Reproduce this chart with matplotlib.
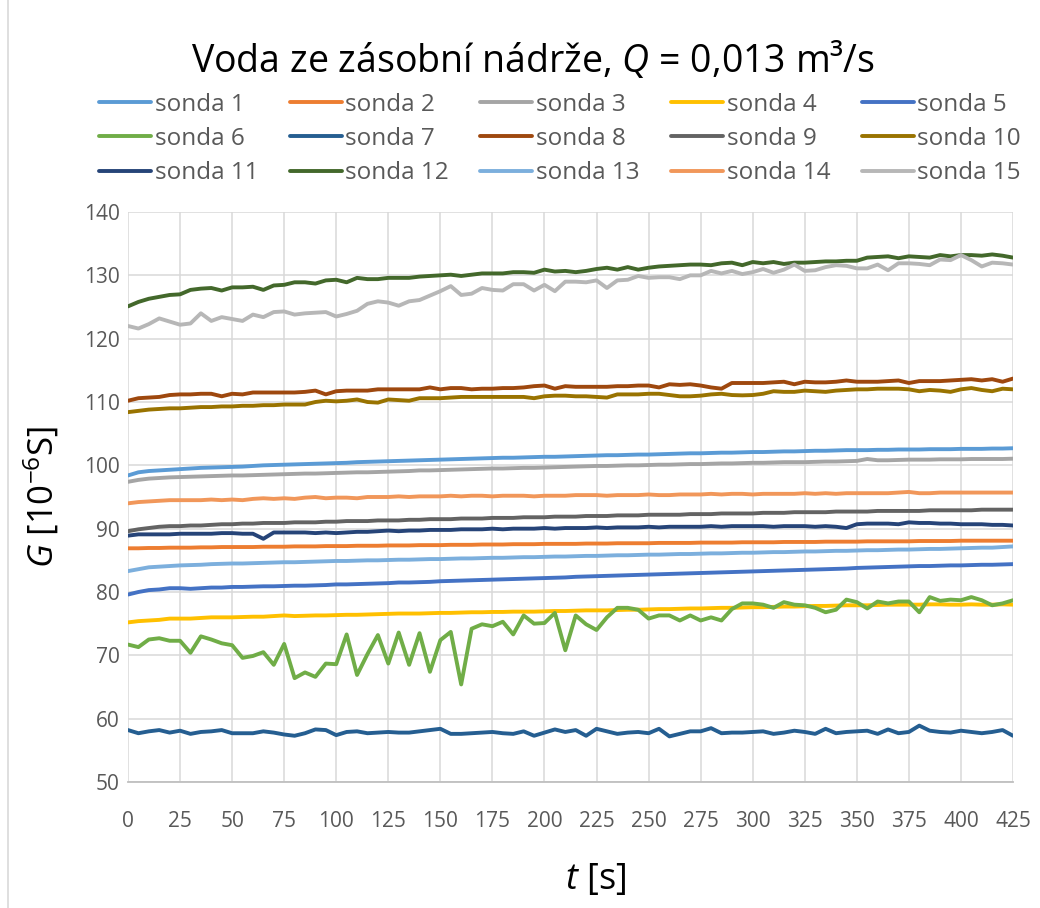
import numpy as np
import matplotlib
matplotlib.use("Agg")
import matplotlib.pyplot as plt
from matplotlib.lines import Line2D

plt.rcParams['font.family'] = ['Open Sans', 'DejaVu Sans']
plt.rcParams['mathtext.fontset'] = 'custom'
plt.rcParams['mathtext.rm'] = 'Open Sans'
plt.rcParams['mathtext.it'] = 'Open Sans:italic'

# time axis [s], one reading every 5 s
t = np.arange(0, 430, 5)

sonda1 = [98.4, 98.9, 99.1, 99.2, 99.3, 99.4, 99.5, 99.6, 99.65, 99.7,
          99.75, 99.8, 99.9, 100.0, 100.05, 100.1, 100.15, 100.2, 100.25, 100.3,
          100.35, 100.4, 100.5, 100.55, 100.6, 100.65, 100.7, 100.75, 100.8, 100.85,
          100.9, 100.95, 101.0, 101.05, 101.1, 101.15, 101.2, 101.2, 101.25, 101.3,
          101.35, 101.35, 101.4, 101.45, 101.5, 101.55, 101.6, 101.6, 101.65, 101.7,
          101.7, 101.75, 101.8, 101.85, 101.9, 101.9, 101.95, 102.0, 102.0, 102.05,
          102.1, 102.1, 102.15, 102.2, 102.2, 102.25, 102.3, 102.3, 102.35, 102.4,
          102.4, 102.4, 102.45, 102.45, 102.5, 102.5, 102.5, 102.55, 102.55, 102.55,
          102.6, 102.6, 102.6, 102.65, 102.65, 102.7]
sonda2 = [86.9, 86.9, 86.95, 86.95, 87.0, 87.0, 87.0, 87.05, 87.05, 87.1,
          87.1, 87.1, 87.1, 87.15, 87.15, 87.15, 87.2, 87.2, 87.2, 87.25,
          87.25, 87.25, 87.3, 87.3, 87.3, 87.35, 87.35, 87.35, 87.4, 87.4,
          87.4, 87.45, 87.45, 87.45, 87.5, 87.5, 87.5, 87.55, 87.55, 87.55,
          87.6, 87.6, 87.6, 87.6, 87.65, 87.65, 87.65, 87.7, 87.7, 87.7,
          87.7, 87.75, 87.75, 87.75, 87.75, 87.8, 87.8, 87.8, 87.8, 87.85,
          87.85, 87.85, 87.85, 87.9, 87.9, 87.9, 87.9, 87.95, 87.95, 87.95,
          87.95, 88.0, 88.0, 88.0, 88.0, 88.0, 88.05, 88.05, 88.05, 88.05,
          88.1, 88.1, 88.1, 88.1, 88.1, 88.1]
sonda3 = [97.4, 97.7, 97.9, 98.0, 98.1, 98.15, 98.2, 98.25, 98.3, 98.35,
          98.4, 98.4, 98.45, 98.5, 98.55, 98.6, 98.65, 98.7, 98.7, 98.75,
          98.8, 98.85, 98.9, 98.9, 98.95, 99.0, 99.05, 99.1, 99.2, 99.2,
          99.25, 99.3, 99.35, 99.4, 99.45, 99.5, 99.5, 99.55, 99.6, 99.6,
          99.65, 99.7, 99.75, 99.8, 99.85, 99.9, 99.9, 99.95, 100.0, 100.0,
          100.05, 100.1, 100.1, 100.15, 100.2, 100.2, 100.25, 100.3, 100.3, 100.35,
          100.4, 100.4, 100.45, 100.5, 100.5, 100.5, 100.55, 100.6, 100.6, 100.65,
          100.7, 101.0, 100.8, 100.8, 100.85, 100.9, 100.9, 100.9, 100.95, 100.95,
          100.95, 101.0, 101.0, 101.0, 101.0, 101.05]
sonda4 = [75.2, 75.4, 75.5, 75.6, 75.8, 75.8, 75.8, 75.9, 76.0, 76.0,
          76.0, 76.05, 76.1, 76.1, 76.2, 76.3, 76.2, 76.25, 76.3, 76.3,
          76.35, 76.4, 76.4, 76.45, 76.5, 76.55, 76.6, 76.6, 76.6, 76.65,
          76.7, 76.7, 76.75, 76.8, 76.8, 76.85, 76.85, 76.9, 76.9, 76.9,
          76.95, 77.0, 77.0, 77.05, 77.1, 77.1, 77.1, 77.15, 77.2, 77.2,
          77.25, 77.3, 77.3, 77.35, 77.4, 77.4, 77.45, 77.5, 77.5, 77.55,
          77.6, 77.6, 77.65, 77.7, 77.7, 77.75, 77.8, 77.8, 77.85, 77.9,
          77.9, 77.9, 77.95, 78.0, 78.0, 78.0, 78.0, 78.05, 78.05, 78.0,
          78.0, 78.05, 78.0, 78.0, 78.05, 78.0]
sonda5 = [79.6, 80.0, 80.3, 80.4, 80.6, 80.6, 80.5, 80.6, 80.7, 80.7,
          80.8, 80.8, 80.85, 80.9, 80.9, 80.95, 81.0, 81.0, 81.05, 81.1,
          81.2, 81.2, 81.25, 81.3, 81.35, 81.4, 81.5, 81.5, 81.55, 81.6,
          81.7, 81.75, 81.8, 81.85, 81.9, 81.95, 82.0, 82.05, 82.1, 82.15,
          82.2, 82.25, 82.3, 82.4, 82.45, 82.5, 82.55, 82.6, 82.65, 82.7,
          82.75, 82.8, 82.85, 82.9, 82.95, 83.0, 83.05, 83.1, 83.15, 83.2,
          83.25, 83.3, 83.35, 83.4, 83.45, 83.5, 83.55, 83.6, 83.65, 83.7,
          83.8, 83.85, 83.9, 83.95, 84.0, 84.05, 84.1, 84.1, 84.15, 84.2,
          84.2, 84.25, 84.3, 84.3, 84.35, 84.4]
sonda6 = [71.7, 71.3, 72.5, 72.7, 72.3, 72.3, 70.4, 73.0, 72.5, 71.9,
          71.6, 69.6, 69.9, 70.5, 68.5, 71.8, 66.4, 67.3, 66.6, 68.7,
          68.6, 73.3, 66.9, 70.2, 73.2, 68.7, 73.6, 68.5, 73.5, 67.4,
          72.4, 73.7, 65.4, 74.2, 74.9, 74.6, 75.3, 73.3, 76.3, 75.0,
          75.1, 76.7, 70.8, 76.3, 74.9, 74.0, 76.0, 77.5, 77.5, 77.2,
          75.8, 76.3, 76.3, 75.5, 76.3, 75.5, 76.0, 75.5, 77.3, 78.2,
          78.2, 78.0, 77.5, 78.4, 78.0, 77.9, 77.5, 76.8, 77.2, 78.8,
          78.4, 77.4, 78.5, 78.2, 78.5, 78.5, 76.8, 79.2, 78.6, 78.8,
          78.7, 79.2, 78.7, 77.9, 78.2, 78.7]
sonda7 = [58.2, 57.7, 58.0, 58.2, 57.8, 58.1, 57.6, 57.9, 58.0, 58.2,
          57.7, 57.7, 57.7, 58.0, 57.8, 57.5, 57.3, 57.7, 58.3, 58.2,
          57.4, 57.9, 58.0, 57.7, 57.8, 57.9, 57.8, 57.8, 58.0, 58.2,
          58.4, 57.6, 57.6, 57.7, 57.8, 57.9, 57.7, 57.6, 58.0, 57.3,
          57.8, 58.3, 57.9, 58.2, 57.3, 58.4, 58.0, 57.6, 57.8, 57.9,
          57.7, 58.4, 57.2, 57.6, 58.0, 58.0, 58.5, 57.7, 57.8, 57.8,
          57.9, 58.0, 57.6, 57.8, 58.1, 57.9, 57.6, 58.4, 57.7, 57.9,
          58.0, 58.1, 57.6, 58.3, 57.7, 57.9, 58.9, 58.1, 57.9, 57.8,
          58.1, 57.9, 57.7, 57.9, 58.2, 57.3]
sonda8 = [110.2, 110.6, 110.7, 110.8, 111.1, 111.2, 111.2, 111.3, 111.3, 110.9,
          111.3, 111.2, 111.5, 111.5, 111.5, 111.5, 111.5, 111.6, 111.8, 111.2,
          111.7, 111.8, 111.8, 111.8, 112.0, 112.0, 112.0, 112.0, 112.0, 112.3,
          112.0, 112.2, 112.2, 112.0, 112.1, 112.1, 112.2, 112.2, 112.3, 112.5,
          112.6, 112.1, 112.5, 112.4, 112.4, 112.4, 112.4, 112.5, 112.5, 112.6,
          112.6, 112.3, 112.8, 112.7, 112.8, 112.6, 112.3, 112.1, 113.0, 113.0,
          113.0, 113.0, 113.1, 113.2, 112.8, 113.2, 113.1, 113.1, 113.2, 113.4,
          113.2, 113.2, 113.2, 113.3, 113.4, 113.0, 113.3, 113.3, 113.3, 113.4,
          113.5, 113.6, 113.4, 113.6, 113.2, 113.7]
sonda9 = [89.6, 89.9, 90.1, 90.3, 90.4, 90.4, 90.5, 90.5, 90.6, 90.7,
          90.7, 90.8, 90.8, 90.9, 90.9, 90.9, 91.0, 91.0, 91.0, 91.1,
          91.1, 91.2, 91.2, 91.2, 91.3, 91.3, 91.3, 91.4, 91.4, 91.5,
          91.5, 91.5, 91.6, 91.6, 91.6, 91.7, 91.7, 91.7, 91.8, 91.8,
          91.8, 91.9, 91.9, 91.9, 92.0, 92.0, 92.0, 92.1, 92.1, 92.1,
          92.2, 92.2, 92.2, 92.2, 92.3, 92.3, 92.3, 92.4, 92.4, 92.4,
          92.4, 92.5, 92.5, 92.5, 92.6, 92.6, 92.6, 92.6, 92.7, 92.7,
          92.7, 92.7, 92.8, 92.8, 92.8, 92.8, 92.8, 92.9, 92.9, 92.9,
          92.9, 92.9, 93.0, 93.0, 93.0, 93.0]
sonda10 = [108.4, 108.6, 108.8, 108.9, 109.0, 109.0, 109.1, 109.2, 109.2, 109.3,
           109.3, 109.4, 109.4, 109.5, 109.5, 109.6, 109.6, 109.6, 110.0, 110.2,
           110.1, 110.2, 110.4, 110.0, 109.9, 110.4, 110.3, 110.2, 110.6, 110.6,
           110.6, 110.7, 110.8, 110.8, 110.8, 110.8, 110.8, 110.8, 110.8, 110.6,
           110.9, 111.0, 111.0, 110.9, 110.9, 110.8, 110.7, 111.2, 111.2, 111.2,
           111.3, 111.3, 111.1, 110.9, 110.9, 111.0, 111.2, 111.3, 111.1, 111.05,
           111.1, 111.3, 111.7, 111.6, 111.6, 111.8, 111.7, 111.6, 111.8, 111.9,
           112.0, 112.0, 112.1, 112.1, 112.1, 112.0, 111.7, 111.9, 111.8, 111.6,
           112.0, 112.2, 111.9, 111.7, 112.1, 112.0]
sonda11 = [88.9, 89.1, 89.1, 89.1, 89.1, 89.2, 89.2, 89.2, 89.2, 89.3,
           89.3, 89.2, 89.2, 88.4, 89.4, 89.4, 89.4, 89.4, 89.3, 89.4,
           89.3, 89.4, 89.5, 89.5, 89.6, 89.7, 89.6, 89.7, 89.7, 89.8,
           89.8, 89.8, 89.9, 89.9, 89.9, 90.0, 89.9, 90.0, 90.0, 90.0,
           90.1, 90.0, 90.1, 90.1, 90.1, 90.2, 90.1, 90.2, 90.2, 90.2,
           90.3, 90.2, 90.3, 90.3, 90.3, 90.3, 90.4, 90.3, 90.4, 90.4,
           90.4, 90.4, 90.3, 90.4, 90.4, 90.4, 90.3, 90.4, 90.3, 90.1,
           90.7, 90.8, 90.8, 90.8, 90.7, 91.0, 90.9, 90.9, 90.8, 90.8,
           90.7, 90.7, 90.7, 90.6, 90.6, 90.5]
sonda12 = [125.1, 125.8, 126.3, 126.6, 126.9, 127.0, 127.7, 127.9, 128.0, 127.6,
           128.1, 128.1, 128.2, 127.7, 128.4, 128.5, 128.9, 128.9, 128.7, 129.2,
           129.3, 128.9, 129.6, 129.4, 129.4, 129.6, 129.6, 129.6, 129.8, 129.9,
           130.0, 130.1, 129.9, 130.1, 130.3, 130.3, 130.3, 130.5, 130.5, 130.4,
           130.9, 130.6, 130.7, 130.5, 130.7, 131.0, 131.2, 130.9, 131.3, 130.9,
           131.2, 131.4, 131.5, 131.6, 131.7, 131.7, 131.6, 131.9, 132.0, 131.6,
           132.1, 131.9, 132.1, 131.8, 132.0, 132.0, 132.1, 132.2, 132.2, 132.3,
           132.3, 132.8, 132.9, 133.0, 132.7, 133.0, 132.9, 132.8, 133.2, 133.0,
           133.2, 133.2, 133.1, 133.3, 133.1, 132.8]
sonda13 = [83.3, 83.6, 83.9, 84.0, 84.1, 84.2, 84.25, 84.3, 84.4, 84.45,
           84.5, 84.5, 84.55, 84.6, 84.65, 84.7, 84.7, 84.75, 84.8, 84.85,
           84.9, 84.9, 84.95, 85.0, 85.0, 85.05, 85.1, 85.1, 85.15, 85.2,
           85.2, 85.25, 85.3, 85.3, 85.35, 85.4, 85.4, 85.45, 85.5, 85.5,
           85.55, 85.6, 85.6, 85.65, 85.7, 85.7, 85.75, 85.8, 85.8, 85.85,
           85.9, 85.9, 85.95, 86.0, 86.0, 86.05, 86.1, 86.1, 86.15, 86.2,
           86.2, 86.25, 86.3, 86.3, 86.35, 86.4, 86.4, 86.45, 86.5, 86.5,
           86.55, 86.6, 86.6, 86.65, 86.7, 86.7, 86.75, 86.8, 86.8, 86.85,
           86.9, 86.95, 87.0, 87.0, 87.1, 87.2]
sonda14 = [94.0, 94.2, 94.3, 94.4, 94.5, 94.5, 94.5, 94.5, 94.6, 94.5,
           94.6, 94.5, 94.7, 94.8, 94.7, 94.8, 94.7, 94.9, 95.0, 94.8,
           94.9, 94.9, 94.8, 95.0, 95.0, 95.0, 95.1, 95.0, 95.1, 95.1,
           95.1, 95.2, 95.1, 95.2, 95.2, 95.1, 95.2, 95.2, 95.2, 95.1,
           95.2, 95.2, 95.2, 95.3, 95.3, 95.3, 95.2, 95.3, 95.3, 95.3,
           95.4, 95.3, 95.3, 95.4, 95.4, 95.4, 95.5, 95.4, 95.5, 95.5,
           95.4, 95.5, 95.5, 95.5, 95.5, 95.6, 95.5, 95.6, 95.5, 95.6,
           95.6, 95.6, 95.6, 95.6, 95.7, 95.8, 95.6, 95.6, 95.7, 95.7,
           95.7, 95.7, 95.7, 95.7, 95.7, 95.7]
sonda15 = [122.0, 121.6, 122.3, 123.2, 122.7, 122.2, 122.4, 124.0, 122.8, 123.4,
           123.1, 122.8, 123.8, 123.4, 124.2, 124.3, 123.8, 124.0, 124.1, 124.2,
           123.5, 123.9, 124.4, 125.5, 125.9, 125.7, 125.2, 125.9, 126.1, 126.8,
           127.5, 128.3, 126.9, 127.1, 128.0, 127.7, 127.6, 128.6, 128.6, 127.6,
           128.5, 127.5, 129.0, 129.0, 128.9, 129.2, 128.0, 129.2, 129.3, 129.9,
           129.6, 129.7, 129.7, 129.4, 130.0, 130.0, 130.7, 130.3, 130.7, 130.2,
           130.5, 131.0, 130.4, 130.9, 131.7, 130.7, 130.8, 131.3, 131.6, 131.5,
           131.1, 131.1, 131.7, 130.8, 131.9, 131.9, 131.8, 131.6, 132.5, 132.4,
           133.2, 132.4, 131.4, 132.0, 131.9, 131.7]

series = [sonda1, sonda2, sonda3, sonda4, sonda5, sonda6, sonda7, sonda8,
          sonda9, sonda10, sonda11, sonda12, sonda13, sonda14, sonda15]
labels = ["sonda %d" % (i + 1) for i in range(15)]
colors = ["#5B9BD5", "#ED7D31", "#A5A5A5", "#FFC000", "#4472C4",
          "#70AD47", "#255E91", "#9E480E", "#636363", "#997300",
          "#264478", "#43682B", "#7CAFDD", "#F1975A", "#B7B7B7"]

fig = plt.figure(figsize=(10.4, 9.08), dpi=100)
ax = fig.add_axes([128 / 1040, 1 - 782 / 908, 885 / 1040, 570 / 908])

handles = []
for vals, lab, col in zip(series, labels, colors):
    h, = ax.plot(t, vals, color=col, lw=2.8, solid_joinstyle='round',
                 solid_capstyle='round', label=lab)
    handles.append(h)

ax.set_xlim(0, 425)
ax.set_ylim(50, 140)
ax.set_xticks(np.arange(0, 426, 25))
ax.set_yticks(np.arange(50, 141, 10))
ax.grid(True, color="#D9D9D9", lw=1.1)
ax.set_axisbelow(True)
for s in ["top", "right", "left"]:
    ax.spines[s].set_visible(False)
ax.spines["bottom"].set_color("#BFBFBF")
ax.spines["bottom"].set_linewidth(1.3)
ax.tick_params(length=0, labelsize=15, colors="#595959")
ax.tick_params(axis='y', pad=6)
ax.tick_params(axis='x', pad=21)

# legend is filled column by column, so reorder to read row by row
order = [r * 5 + c for c in range(5) for r in range(3)]
fig.legend([handles[i] for i in order], [labels[i] for i in order],
           ncol=5, loc='center', bbox_to_anchor=(0.5385, 1 - 139 / 908),
           frameon=False, fontsize=17.5, handlelength=2.14, handletextpad=0.15,
           columnspacing=1.29, labelspacing=0.42, labelcolor="#595959")

fig.text(0.5125, 1 - 60 / 908, "Voda ze zásobní nádrže, $Q$ = 0,013 m³/s",
         ha='center', va='center', fontsize=27)
fig.text(42 / 1040, 1 - 497 / 908, r"$G$ [10$^{-6}$S]", rotation=90,
         ha='center', va='center', fontsize=25)
fig.text(596 / 1040, 1 - 880 / 908, r"$t$ [s]", ha='center', va='center',
         fontsize=26)

fig.add_artist(Line2D([8 / 1040, 8 / 1040], [0, 1], color="#D9D9D9", lw=1.2))

fig.savefig("out.png", dpi=100)
